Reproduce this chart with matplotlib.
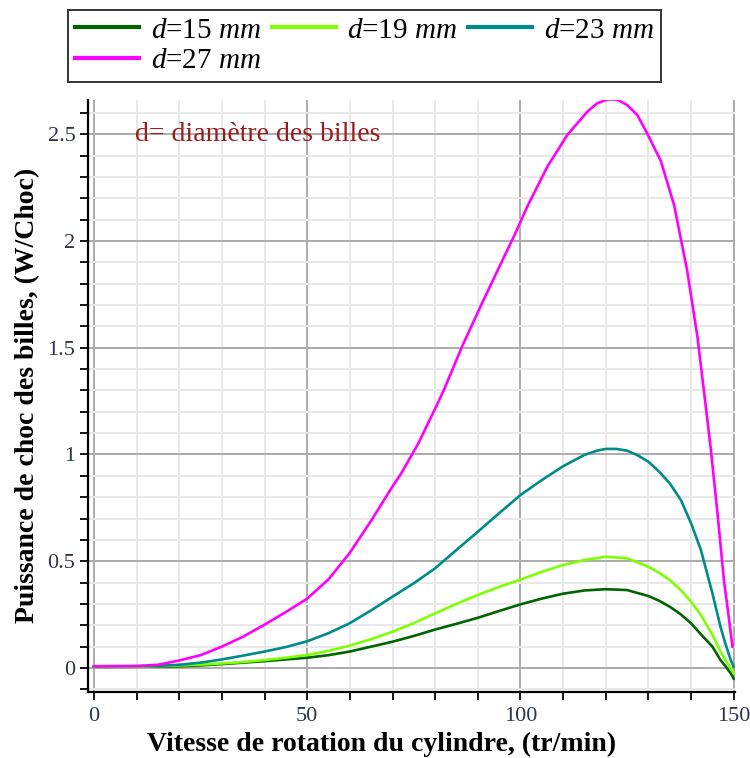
import numpy as np
import matplotlib.pyplot as plt
from matplotlib.ticker import MultipleLocator, FuncFormatter

# Puissance de choc des billes en fonction de la vitesse de rotation du cylindre
# vitesse N (tr/min) et puissance P (W/Choc) pour chaque diametre de bille

N_15 = [0, 10, 20, 25, 30, 35, 40, 45, 50, 55, 60, 65, 70, 75, 80, 85, 90, 95,
        100, 105, 110, 115, 120, 125, 130, 132.5, 135, 137.6, 140, 142.3, 145,
        146.9, 148, 149.3, 150]
P_15 = [0.005, 0.006, 0.008, 0.012, 0.018, 0.025, 0.032, 0.04, 0.048, 0.06,
        0.077, 0.1, 0.123, 0.15, 0.18, 0.207, 0.235, 0.267, 0.298, 0.325,
        0.348, 0.363, 0.369, 0.365, 0.337, 0.315, 0.287, 0.251, 0.209, 0.158,
        0.10, 0.037, 0.01, -0.025, -0.05]

N_19 = N_15
P_19 = [0.005, 0.006, 0.012, 0.016, 0.021, 0.028, 0.037, 0.048, 0.061, 0.08,
        0.105, 0.135, 0.17, 0.21, 0.256, 0.30, 0.342, 0.38, 0.414, 0.45,
        0.482, 0.506, 0.521, 0.514, 0.474, 0.446, 0.412, 0.365, 0.31, 0.248,
        0.155, 0.077, 0.04, -0.002, -0.025]

N_23 = [0, 10, 15, 20, 25, 30, 35, 40, 45, 50, 55, 60, 65, 70, 75, 80, 85, 90,
        95, 100, 105, 110, 115, 118, 120, 122.5, 125, 127.5, 130, 132.5, 135,
        137.6, 140, 142.3, 145, 146.9, 148, 149.3, 150]
P_23 = [0.008, 0.009, 0.01, 0.015, 0.025, 0.04, 0.058, 0.077, 0.098, 0.125,
        0.163, 0.21, 0.27, 0.334, 0.397, 0.467, 0.553, 0.638, 0.725, 0.81,
        0.88, 0.945, 0.998, 1.018, 1.026, 1.026, 1.018, 0.996, 0.966, 0.92,
        0.865, 0.787, 0.678, 0.553, 0.35, 0.193, 0.117, 0.037, 0.006]

N_27 = [0, 10, 15, 20, 25, 30, 35, 40, 45, 50, 55, 60, 65, 70, 72, 76, 80, 82,
        86.3, 90.6, 94.5, 98.8, 101.6, 106.3, 111, 115.7, 118, 120.4, 122.7,
        125, 127.4, 129.7, 132.9, 136, 139.1, 141.5, 143, 144.6, 146.2, 147.7,
        148.7, 149.7]
P_27 = [0.008, 0.009, 0.015, 0.035, 0.06, 0.10, 0.147, 0.203, 0.262, 0.325,
        0.415, 0.54, 0.69, 0.85, 0.91, 1.05, 1.215, 1.30, 1.505, 1.692,
        1.856, 2.036, 2.161, 2.348, 2.497, 2.606, 2.645, 2.663, 2.662, 2.637,
        2.59, 2.504, 2.375, 2.17, 1.86, 1.55, 1.30, 1.03, 0.724, 0.412,
        0.26, 0.10]

series = [(N_15, P_15), (N_19, P_19), (N_23, P_23), (N_27, P_27)]
labels = [r'$d$=15 $mm$', r'$d$=19 $mm$', r'$d$=23 $mm$', r'$d$=27 $mm$']
couleurs = ['#006400', '#7fff00', '#008b8b', '#ff00ff']

plt.rcParams['font.family'] = ['Liberation Serif', 'DejaVu Serif']
plt.rcParams['mathtext.fontset'] = 'custom'
plt.rcParams['mathtext.rm'] = 'Liberation Serif'
plt.rcParams['mathtext.it'] = 'Liberation Serif:italic'

fig = plt.figure(figsize=(7.5, 7.58), dpi=100)
ax = fig.add_axes([0.1173, 0.0875, 0.8627, 0.7805])

lignes = []
for (x, y), lab, c in zip(series, labels, couleurs):
    l, = ax.plot(x, y, color=c, lw=1.9, label=lab, solid_joinstyle='round')
    lignes.append(l)

ax.set_xlim(-1.4, 150.3)
ax.set_ylim(-0.111, 2.66)

# grille : lignes fortes tous les 50 / 0.5, fines tous les 10 / 0.1
ax.xaxis.set_major_locator(MultipleLocator(50))
ax.xaxis.set_minor_locator(MultipleLocator(10))
ax.yaxis.set_major_locator(MultipleLocator(0.5))
ax.yaxis.set_minor_locator(MultipleLocator(0.1))
ax.grid(which='major', color='#ababab', lw=1.4)
ax.grid(which='minor', color='#e8e8e8', lw=1.4)
ax.set_axisbelow(True)

fmt = FuncFormatter(lambda v, p: f'{v:g}')
ax.yaxis.set_major_formatter(fmt)
ax.xaxis.set_major_formatter(fmt)

ax.tick_params(which='both', direction='out', length=6, width=1.3, color='black',
               labelsize=16, labelcolor='#2b3550')
ax.tick_params(axis='y', pad=3)
ax.tick_params(axis='x', pad=5)

for s in ['top', 'right']:
    ax.spines[s].set_visible(False)
for s in ['left', 'bottom']:
    ax.spines[s].set_linewidth(1.6)

ax.set_xlabel('Vitesse de rotation du cylindre, (tr/min)', fontsize=20,
              fontweight='bold')
ax.xaxis.set_label_coords(0.453, -0.068)
ax.set_ylabel('Puissance de choc des billes, (W/Choc)', fontsize=20,
              fontweight='bold')
ax.yaxis.set_label_coords(-0.074, 0.50)

ax.text(9.6, 2.5, 'd= diamètre des billes', color='#9a1b1b', fontsize=20,
        va='center', ha='left')

# ordre des entrees pour remplir la legende ligne par ligne
ordre = [0, 3, 1, 2]
leg = fig.legend([lignes[i] for i in ordre], [labels[i] for i in ordre],
                 loc='upper left', bbox_to_anchor=(68 / 750, 1 - 10 / 758),
                 ncol=3, fontsize=21, frameon=True, fancybox=False,
                 borderaxespad=0, handlelength=2.2, handletextpad=0.4,
                 columnspacing=0.35, labelspacing=0.15, borderpad=0.25)
leg.get_frame().set_edgecolor('black')
leg.get_frame().set_linewidth(1.4)
for h in leg.get_lines():
    h.set_linewidth(3)

fig.savefig('out.png', dpi=100)
